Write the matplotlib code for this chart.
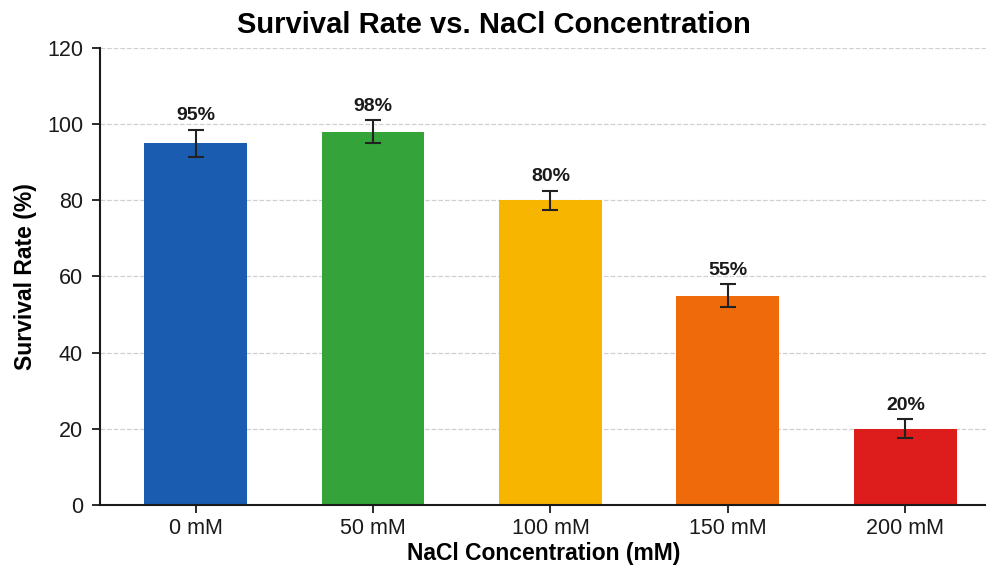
import matplotlib
matplotlib.use("Agg")
import matplotlib.pyplot as plt

plt.rcParams["font.family"] = ["Liberation Sans", "DejaVu Sans"]

labels = ["0 mM", "50 mM", "100 mM", "150 mM", "200 mM"]
survival = [95, 98, 80, 55, 20]
errors = [3.5, 3.0, 2.5, 3.0, 2.5]
colors = ["#1a5cb0", "#33a33a", "#f8b500", "#ee6a0a", "#dd1c1c"]

fig = plt.figure(figsize=(9.87, 5.66), dpi=100)
ax = fig.add_axes([0.101, 0.108, 0.899, 0.807])

x = list(range(len(labels)))
ax.bar(x, survival, width=0.58, color=colors, zorder=2)
ax.errorbar(x, survival, yerr=errors, fmt="none", ecolor="#222222",
            elinewidth=1.5, capsize=5.5, capthick=1.5, zorder=3)
for xi, v, e in zip(x, survival, errors):
    ax.annotate(f"{v}%", (xi, v + e), xytext=(0, 4), textcoords="offset points",
                ha="center", va="bottom", fontsize=14, fontweight="bold", color="#1a1a1a")

ax.set_xlim(-0.54, 4.46)
ax.set_ylim(0, 120)
ax.set_yticks(range(0, 121, 20))
ax.set_xticks(x)
ax.set_xticklabels(labels)
ax.tick_params(axis="both", labelsize=15.5, width=1.3, length=6, colors="#1a1a1a")
ax.tick_params(axis="y", pad=6)
ax.grid(axis="y", linestyle="--", color="#d0d0d0", linewidth=0.9, zorder=0)
ax.set_axisbelow(True)
for s in ["top", "right"]:
    ax.spines[s].set_visible(False)
for s in ["left", "bottom"]:
    ax.spines[s].set_linewidth(1.5)
    ax.spines[s].set_color("#1a1a1a")

ax.set_ylabel("Survival Rate (%)", fontsize=16.5, fontweight="bold", labelpad=7)
ax.set_xlabel("NaCl Concentration (mM)", fontsize=16.5, fontweight="bold", labelpad=2)
fig.suptitle("Survival Rate vs. NaCl Concentration", fontsize=21, fontweight="bold", y=0.98)

fig.savefig("out.png", dpi=100)
